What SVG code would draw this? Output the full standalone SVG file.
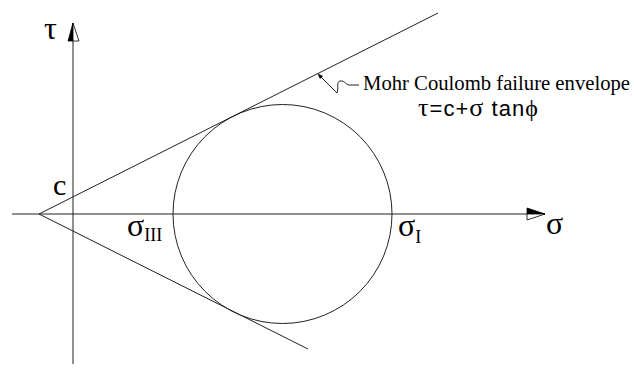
<svg xmlns="http://www.w3.org/2000/svg" width="634" height="378" viewBox="0 0 634 378">
<style>
.ln{stroke:#222;stroke-width:1;fill:none}
.ser{font-family:"Liberation Serif","Times New Roman",serif;fill:#000}
.san{font-family:"Liberation Sans",Arial,sans-serif;fill:#000}
.gk{font-family:"Liberation Serif","Times New Roman",serif}
</style>
<rect width="634" height="378" fill="#fff"/>
<g id="axes">
<line class="ln" x1="73" y1="23" x2="73" y2="364"/>
<line class="ln" x1="12" y1="214" x2="545" y2="214"/>
<polygon points="73,23 68,41 73,41" fill="#000" stroke="#000" stroke-width="0.8"/>
<polygon points="73,23 79,41 73,41" fill="#fff" stroke="#000" stroke-width="0.8"/>
<polygon points="545,214 527,208 527,214" fill="#000" stroke="#000" stroke-width="0.8"/>
<polygon points="545,214 527,220 527,214" fill="#fff" stroke="#000" stroke-width="0.8"/>
</g>
<g id="mohr-circle">
<circle class="ln" cx="282.5" cy="214" r="109.5" stroke="#444"/>
</g>
<g id="connectors">
<line class="ln" x1="39" y1="214" x2="438" y2="13"/>
<line class="ln" x1="39" y1="214" x2="308" y2="349"/>
<path class="ln" d="M319,75 L337,93 C339,88 336,82 340,81 C345,80 346,86 351,85 L359,85"/>
<polygon points="317.5,73.5 323,76 320,79" fill="#000"/>
</g>
<g id="labels">
<text class="ser" x="44" y="39" font-size="32">τ</text>
<text class="ser" x="53" y="195" font-size="30">c</text>
<text class="ser" x="127" y="236" font-size="32">σ<tspan font-size="18" dy="5">III</tspan></text>
<text class="ser" x="398" y="236" font-size="32">σ<tspan font-size="18" dy="7">I</tspan></text>
<text class="ser" x="546" y="234" font-size="32">σ</text>
<text class="ser" x="363" y="90" font-size="20" textLength="267" lengthAdjust="spacingAndGlyphs">Mohr Coulomb failure envelope</text>
<text class="san" x="418" y="116" font-size="22" textLength="120" lengthAdjust="spacing"><tspan class="gk" font-size="26">τ</tspan>=c+<tspan class="gk" font-size="26">σ</tspan> tan<tspan class="gk" font-size="24">ϕ</tspan></text>
</g>
</svg>
